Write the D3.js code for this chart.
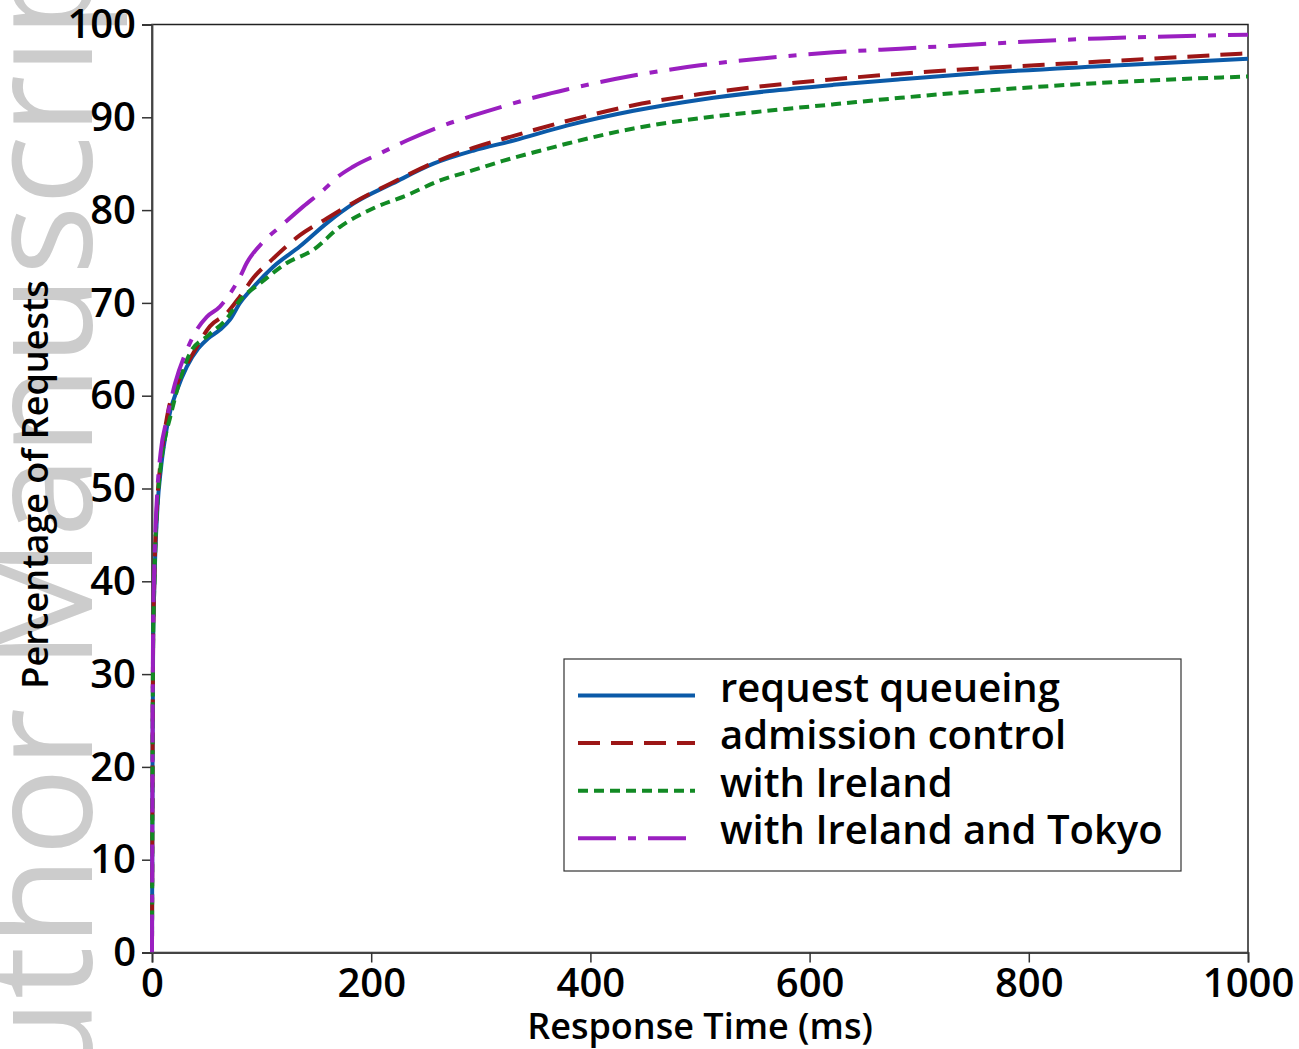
<!DOCTYPE html>
<html>
<head>
<meta charset="utf-8">
<script src="https://cdn.jsdelivr.net/npm/d3@7"></script>
<style>
  html, body { margin: 0; padding: 0; background: #fff; }
  svg { display: block; }
  text { font-family: "Open Sans", "Noto Sans", sans-serif; }
</style>
</head>
<body>
<svg id="chart" width="1299" height="1049"></svg>
<script>
// Cumulative share of requests (%) answered within a given response time (ms)
const xTicks = [0, 200, 400, 600, 800, 1000];
const yTicks = [0, 10, 20, 30, 40, 50, 60, 70, 80, 90, 100];

const requestQueueing = [
  [0, 0], [0.5, 20], [1, 33], [2, 39], [3, 43], [5, 48], [8, 52], [12, 55.5],
  [17, 58.5], [22.5, 60.5], [31.7, 63.1], [42.3, 65.1], [51.4, 66.2], [62, 67.1],
  [71.2, 68.2], [80.3, 70], [92.5, 71.7], [110.7, 73.9], [135, 76.1], [159.5, 78.6],
  [183.8, 80.7], [220, 82.9], [256.8, 85], [293, 86.4], [330, 87.5], [378.5, 89.1],
  [439.4, 90.7], [500, 91.9], [561, 92.8], [622, 93.5], [682.8, 94.1], [760, 94.8],
  [865, 95.5], [1000, 96.3]
];
const admissionControl = [
  [0, 0], [0.5, 20], [1, 33], [2, 39.5], [3, 44], [5, 49], [8, 53], [12, 56.5],
  [15, 58.5], [22, 61], [30, 63], [37.7, 64.6], [53, 67.5], [68.2, 68.9],
  [80.3, 70.7], [92.5, 72.7], [110.7, 74.8], [135, 77.3], [159.5, 79.1],
  [183.8, 80.8], [220, 83], [256.8, 85.1], [293, 86.7], [330, 88], [378.5, 89.6],
  [439.4, 91.3], [500, 92.5], [561, 93.4], [622, 94.1], [682.8, 94.7], [865, 96],
  [1000, 96.9]
];
const withIreland = [
  [0, 0], [0.5, 20], [1, 33], [2, 39], [3, 43.5], [5, 48.5], [8, 52.5], [12, 55.5],
  [16.4, 57.6], [25, 61.5], [34.7, 64.6], [51.4, 66.5], [68.2, 68.3], [80.3, 70.3],
  [98.6, 72.1], [123, 74.3], [147, 75.7], [171.6, 78.2], [202, 80.2], [232.5, 81.6],
  [262.9, 83.2], [293, 84.3], [320, 85.3], [354, 86.4], [380, 87.2], [439.4, 88.8],
  [500, 89.9], [561, 90.7], [622, 91.4], [682.8, 92.1], [865, 93.7], [1000, 94.4]
];
const withIrelandTokyo = [
  [0, 0], [0.5, 22], [1, 35], [2, 41], [3, 45], [5, 50], [8, 54], [13.4, 57.4],
  [21, 61.3], [31.7, 64.9], [40.8, 67.1], [50, 68.5], [62, 69.6], [71.2, 71],
  [80.3, 72.8], [86.4, 74.3], [101.6, 76.6], [116.8, 78.2], [138.1, 80.4],
  [159.5, 82.5], [165.5, 83.2], [183.8, 84.7], [208, 86.1], [232.5, 87.5],
  [262.9, 89], [293.3, 90.2], [323.8, 91.3], [354, 92.3], [378.5, 93], [439.4, 94.5],
  [500, 95.6], [561, 96.4], [622, 97], [682.8, 97.4], [865, 98.5], [1000, 98.9]
];

const seriesNames = ["request queueing", "admission control", "with Ireland", "with Ireland and Tokyo"];
const seriesData = [requestQueueing, admissionControl, withIreland, withIrelandTokyo];
const seriesColors = ["#0b5aa8", "#9c1616", "#128a24", "#9a1fc0"];
const seriesDashes = [null, "22,11", "10,6", "38,12,8,12"];

const svg = d3.select("#chart");
const margin = { left: 152, right: 51, top: 24.5, bottom: 96.5 };
const W = 1299, H = 1049;

const x = d3.scaleLinear().domain([0, 1000]).range([margin.left, W - margin.right]);
const y = d3.scaleLinear().domain([0, 100]).range([H - margin.bottom, margin.top]);

// Faint vertical watermark along the left edge
svg.append("text")
  .attr("transform", "translate(92,1182) rotate(-90)")
  .attr("font-size", 147)
  .attr("font-weight", 400)
  .attr("fill", "#cccccc")
  .text("Author Manuscript");

// Plot frame
svg.append("rect")
  .attr("x", x(0)).attr("y", y(100))
  .attr("width", x(1000) - x(0)).attr("height", y(0) - y(100))
  .attr("fill", "none").attr("stroke", "#222").attr("stroke-width", 1.5);

// Axes
const xAxis = svg.append("g")
  .attr("transform", `translate(0,${y(0)})`)
  .call(d3.axisBottom(x).tickValues(xTicks).tickSize(10).tickPadding(6).tickFormat(d3.format("d")));
const yAxis = svg.append("g")
  .attr("transform", `translate(${x(0)},0)`)
  .call(d3.axisLeft(y).tickValues(yTicks).tickSize(10).tickPadding(6).tickFormat(d3.format("d")));

[xAxis, yAxis].forEach(g => {
  g.select(".domain").attr("stroke", "#444").attr("stroke-width", 1.8);
  g.selectAll(".tick line").attr("stroke", "#333").attr("stroke-width", 1.5);
  g.selectAll(".tick text")
    .attr("fill", "#000")
    .attr("font-size", 40)
    .attr("font-weight", 600)
    .style("font-family", "'Open Sans', sans-serif");
});
yAxis.selectAll(".tick text").attr("dy", "0.33em");

// Axis titles
svg.append("text")
  .attr("x", (x(0) + x(1000)) / 2).attr("y", 1039)
  .attr("text-anchor", "middle")
  .attr("font-size", 36).attr("font-weight", 600)
  .text("Response Time (ms)");
svg.append("text")
  .attr("transform", `translate(48,${(y(0) + y(100)) / 2 - 4}) rotate(-90)`)
  .attr("text-anchor", "middle")
  .attr("font-size", 36).attr("font-weight", 600)
  .text("Percentage of Requests");

// CDF curves
svg.append("clipPath").attr("id", "plotClip")
  .append("rect")
  .attr("x", x(0) - 3).attr("y", y(100))
  .attr("width", x(1000) - x(0) + 3).attr("height", y(0) - y(100));

const line = d3.line()
  .x(d => x(d[0]))
  .y(d => y(d[1]))
  .curve(d3.curveMonotoneX);

const curves = svg.append("g").attr("clip-path", "url(#plotClip)");
seriesData.forEach((data, i) => {
  curves.append("path")
    .datum(data)
    .attr("d", line)
    .attr("fill", "none")
    .attr("stroke", seriesColors[i])
    .attr("stroke-width", 4)
    .attr("stroke-dasharray", seriesDashes[i]);
});

// Legend
const legend = svg.append("g");
legend.append("rect")
  .attr("x", 564).attr("y", 659).attr("width", 617).attr("height", 212)
  .attr("fill", "#fff").attr("stroke", "#333").attr("stroke-width", 1.2);
seriesNames.forEach((name, i) => {
  const ry = 695.5 + i * 47.6;
  legend.append("line")
    .attr("x1", 578).attr("x2", 695).attr("y1", ry).attr("y2", ry)
    .attr("stroke", seriesColors[i]).attr("stroke-width", 4)
    .attr("stroke-dasharray", seriesDashes[i]);
  legend.append("text")
    .attr("x", 720).attr("y", ry + 6)
    .attr("font-size", 40).attr("font-weight", 600)
    .text(name);
});
</script>
</body>
</html>
